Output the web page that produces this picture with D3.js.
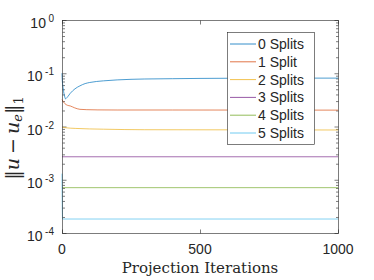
<!DOCTYPE html>
<html>
<head>
<meta charset="utf-8">
<script src="https://cdn.jsdelivr.net/npm/d3@7"></script>
<style>
  body { margin: 0; background: #fff; }
  svg { display: block; }
  text { font-family: "Liberation Sans", Arial, sans-serif; fill: #262626; }
</style>
</head>
<body>
<svg id="chart" width="374" height="280"></svg>
<script>
'use strict';

// values
const splitLabels = ['0 Splits', '1 Split', '2 Splits', '3 Splits', '4 Splits', '5 Splits'];

const iters0 = [0, 1, 3, 6, 10, 13, 16, 22, 30, 47, 65, 84, 100, 150, 200, 300, 400, 500, 700, 1000];
const split0 = [0.1, 0.075, 0.058, 0.045, 0.036, 0.033, 0.034, 0.037, 0.042, 0.051, 0.058, 0.064, 0.067, 0.072, 0.075, 0.078, 0.079, 0.080, 0.081, 0.081];

const iters1 = [0, 5, 10, 20, 30, 45, 65, 90, 130, 200, 400, 1000];
const split1 = [0.032, 0.029, 0.027, 0.025, 0.0243, 0.0225, 0.021, 0.0207, 0.0205, 0.0204, 0.0204, 0.0203];

const iters2 = [0, 10, 50, 150, 300, 1000];
const split2 = [0.0098, 0.0095, 0.0092, 0.0089, 0.0087, 0.0086];

const iters3 = [0, 1000];
const split3 = [0.0027, 0.0027];

const iters4 = [0, 1000];
const split4 = [0.00071, 0.00071];

const iters5 = [0, 1, 2, 1000];
const split5 = [0.0013, 0.0003, 0.000183, 0.000183];

const xTicks = [0, 500, 1000];
const yDecades = [0, -1, -2, -3, -4];

const colors = ['#0072BD', '#D95319', '#EDB120', '#7E2F8E', '#77AC30', '#4DBEEE'];

const series = [
    [iters0, split0], [iters1, split1], [iters2, split2],
    [iters3, split3], [iters4, split4], [iters5, split5]
].map(([it, v], i) => ({
    name: splitLabels[i],
    color: colors[i],
    points: it.map((x, j) => ({ x: x, y: v[j] }))
}));

const box = { left: 62, right: 338, top: 20, bottom: 233 };

const svg = d3.select('#chart');

const x = d3.scaleLinear().domain([0, 1000]).range([box.left, box.right]);
const y = d3.scaleLog().domain([1e-4, 1]).range([box.bottom, box.top]);

// minor log ticks
const minor = [];
yDecades.slice(1).forEach(d => {
    for (let k = 2; k <= 9; k++) minor.push(k * Math.pow(10, d));
});

const axisColor = '#262626';

const drawYTicks = (gen, xpos, values, size) => {
    const g = svg.append('g')
        .attr('transform', `translate(${xpos + 0.5},0)`)
        .call(gen(y).tickValues(values).tickSize(size).tickFormat(''));
    g.select('.domain').remove();
    g.selectAll('line').attr('stroke', axisColor).attr('stroke-width', 0.6);
};

const majors = yDecades.map(d => Math.pow(10, d));
drawYTicks(d3.axisLeft, box.left, majors, -4);
drawYTicks(d3.axisLeft, box.left, minor, -2.5);
drawYTicks(d3.axisRight, box.right, majors, -4);
drawYTicks(d3.axisRight, box.right, minor, -2.5);

const drawXTicks = (gen, ypos) => {
    const g = svg.append('g')
        .attr('transform', `translate(0,${ypos + 0.5})`)
        .call(gen(x).tickValues(xTicks).tickSize(-4).tickFormat(''));
    g.select('.domain').remove();
    g.selectAll('line').attr('stroke', axisColor).attr('stroke-width', 0.6);
};
drawXTicks(d3.axisBottom, box.bottom);
drawXTicks(d3.axisTop, box.top);

// lines
const line = d3.line()
    .x(d => x(d.x))
    .y(d => y(d.y))
    .curve(d3.curveMonotoneX);

const plot = svg.append('g');
plot.selectAll('path')
    .data(series)
    .enter()
    .append('path')
    .attr('d', d => line(d.points))
    .attr('fill', 'none')
    .attr('stroke', d => d.color)
    .attr('stroke-width', 0.7);

// box
svg.append('rect')
    .attr('x', box.left + 0.5)
    .attr('y', box.top + 0.5)
    .attr('width', box.right - box.left)
    .attr('height', box.bottom - box.top)
    .attr('fill', 'none')
    .attr('stroke', axisColor)
    .attr('stroke-width', 0.6);

// y tick labels 10^d
yDecades.forEach(d => {
    const t = svg.append('text')
        .attr('x', 54)
        .attr('y', y(Math.pow(10, d)) + 8)
        .attr('text-anchor', 'end')
        .style('font-size', '14px');
    t.append('tspan').text('10');
    t.append('tspan')
        .attr('dx', 2.5)
        .attr('dy', -6)
        .style('font-size', '10px')
        .text(d === 0 ? '0' : '-' + Math.abs(d));
});

// x tick labels
svg.selectAll('.xlab')
    .data(xTicks)
    .enter()
    .append('text')
    .attr('class', 'xlab')
    .attr('x', d => x(d))
    .attr('y', 254)
    .attr('text-anchor', 'middle')
    .style('font-size', '14px')
    .text(d => d);

// axis labels
svg.append('text')
    .attr('x', (box.left + box.right) / 2)
    .attr('y', 273)
    .attr('text-anchor', 'middle')
    .style('font-family', '"DejaVu Serif", serif')
    .style('font-size', '15px')
    .text('Projection Iterations');

const yl = svg.append('text')
    .attr('transform', 'translate(19,138) rotate(-90)')
    .attr('text-anchor', 'middle')
    .style('font-family', '"DejaVu Serif", serif')
    .style('font-size', '19px');
yl.append('tspan').text('\u2016');
yl.append('tspan').style('font-style', 'italic').text('u');
yl.append('tspan').attr('dx', 4).text('\u2212');
yl.append('tspan').attr('dx', 4).style('font-style', 'italic').text('u');
yl.append('tspan').style('font-style', 'italic').style('font-size', '13px').attr('dy', 3).text('e');
yl.append('tspan').attr('dy', -3).text('\u2016');
yl.append('tspan').style('font-size', '13px').attr('dy', 4).text('1');

// legend
const legend = svg.append('g');
legend.append('rect')
    .attr('x', 227.5)
    .attr('y', 32.5)
    .attr('width', 87)
    .attr('height', 112)
    .attr('fill', '#fff')
    .attr('stroke', axisColor)
    .attr('stroke-width', 0.6);

const rowY = d3.scaleLinear().domain([0, 5]).range([44, 133]);
const rows = legend.selectAll('.row')
    .data(series)
    .enter()
    .append('g')
    .attr('class', 'row')
    .attr('transform', (d, i) => `translate(0,${rowY(i)})`);
rows.append('line')
    .attr('x1', 230).attr('x2', 256)
    .attr('stroke', d => d.color)
    .attr('stroke-width', 0.8);
rows.append('text')
    .attr('x', 258)
    .attr('y', 5)
    .style('font-size', '14px')
    .text(d => d.name);
</script>
</body>
</html>
